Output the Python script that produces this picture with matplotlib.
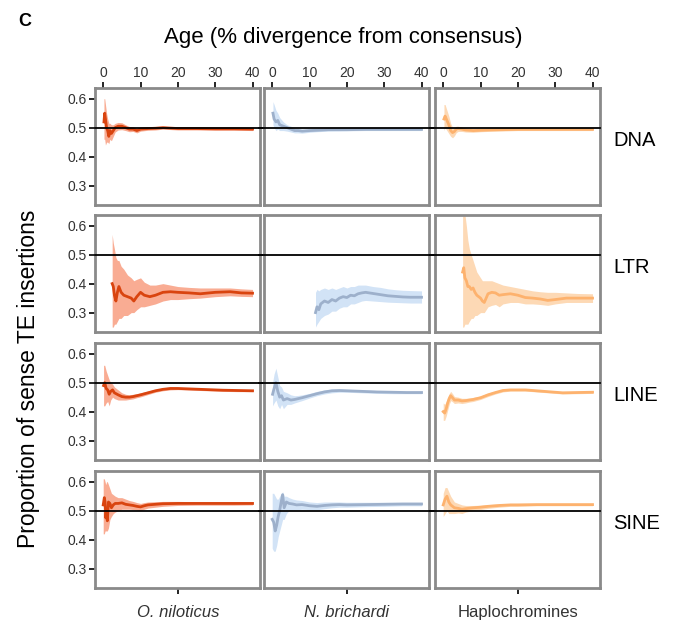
import matplotlib
matplotlib.use("Agg")
import matplotlib.pyplot as plt

plt.rcParams['font.family'] = ['Liberation Sans', 'DejaVu Sans']

species = ['O. niloticus', 'N. brichardi', 'Haplochromines']
te_classes = ['DNA', 'LTR', 'LINE', 'SINE']
x_ticks = [0, 10, 20, 30, 40]
y_ticks = [0.3, 0.4, 0.5, 0.6]

line_colors = ['#D9440F', '#9DB0CB', '#FDB26E']
band_colors = ['#F9AC93', '#D2E3F6', '#FDD9B5']

# ---- DNA ----
dna_oni_x = [0.2, 0.4, 0.6, 0.9, 1.2, 1.5, 1.8, 2.2, 2.7, 3.2, 4, 5, 6, 7, 8, 9, 10, 12, 14, 16, 20, 25, 30, 35, 40]
dna_oni_y = [0.52, 0.55, 0.53, 0.50, 0.49, 0.47, 0.49, 0.48, 0.49, 0.50, 0.505, 0.505, 0.50, 0.495, 0.495, 0.49, 0.495, 0.497, 0.498, 0.5, 0.497, 0.497, 0.496, 0.496, 0.495]
dna_oni_hi = [0.60, 0.60, 0.58, 0.55, 0.53, 0.515, 0.515, 0.51, 0.51, 0.515, 0.518, 0.517, 0.51, 0.504, 0.503, 0.498, 0.502, 0.503, 0.504, 0.505, 0.502, 0.502, 0.501, 0.501, 0.5]
dna_oni_lo = [0.46, 0.46, 0.44, 0.45, 0.45, 0.445, 0.46, 0.455, 0.47, 0.485, 0.492, 0.493, 0.49, 0.486, 0.487, 0.482, 0.488, 0.491, 0.492, 0.495, 0.492, 0.492, 0.491, 0.491, 0.49]

dna_nbr_x = [0.2, 0.5, 1, 1.5, 2, 3, 4, 5, 6, 7, 8, 10, 12, 15, 20, 25, 30, 35, 40]
dna_nbr_y = [0.55, 0.53, 0.52, 0.525, 0.51, 0.505, 0.50, 0.495, 0.49, 0.49, 0.488, 0.49, 0.491, 0.493, 0.493, 0.494, 0.494, 0.494, 0.494]
dna_nbr_hi = [0.59, 0.58, 0.56, 0.55, 0.535, 0.52, 0.51, 0.505, 0.5, 0.498, 0.495, 0.496, 0.497, 0.498, 0.498, 0.498, 0.498, 0.498, 0.498]
dna_nbr_lo = [0.51, 0.50, 0.49, 0.495, 0.49, 0.49, 0.488, 0.485, 0.482, 0.482, 0.481, 0.484, 0.486, 0.488, 0.489, 0.49, 0.49, 0.49, 0.49]

dna_hap_x = [0.2, 0.5, 1, 1.5, 2, 2.5, 3, 3.5, 4, 5, 6, 8, 10, 12, 15, 20, 25, 30, 35, 40]
dna_hap_y = [0.53, 0.54, 0.525, 0.51, 0.49, 0.483, 0.487, 0.495, 0.497, 0.495, 0.492, 0.49, 0.491, 0.492, 0.493, 0.494, 0.494, 0.494, 0.494, 0.494]
dna_hap_hi = [0.58, 0.58, 0.56, 0.54, 0.515, 0.50, 0.5, 0.505, 0.505, 0.502, 0.498, 0.496, 0.496, 0.497, 0.498, 0.498, 0.498, 0.498, 0.498, 0.498]
dna_hap_lo = [0.49, 0.5, 0.49, 0.48, 0.47, 0.465, 0.472, 0.483, 0.487, 0.487, 0.485, 0.484, 0.486, 0.487, 0.488, 0.49, 0.49, 0.49, 0.49, 0.49]

# ---- LTR ----
ltr_oni_x = [2.4, 2.7, 3.0, 3.4, 3.8, 4.2, 4.8, 5.5, 6.5, 7.5, 8.2, 9, 10, 11, 12.5, 14, 16, 18, 20, 23, 26, 30, 34, 37, 40]
ltr_oni_y = [0.40, 0.39, 0.36, 0.34, 0.37, 0.39, 0.37, 0.36, 0.355, 0.35, 0.34, 0.355, 0.37, 0.36, 0.355, 0.36, 0.37, 0.372, 0.37, 0.368, 0.365, 0.37, 0.372, 0.368, 0.367]
ltr_oni_hi = [0.57, 0.54, 0.52, 0.49, 0.48, 0.48, 0.46, 0.45, 0.43, 0.42, 0.41, 0.415, 0.42, 0.405, 0.395, 0.395, 0.4, 0.395, 0.39, 0.387, 0.385, 0.385, 0.385, 0.382, 0.38]
ltr_oni_lo = [0.25, 0.25, 0.26, 0.26, 0.27, 0.28, 0.28, 0.29, 0.29, 0.3, 0.3, 0.31, 0.32, 0.32, 0.325, 0.33, 0.34, 0.345, 0.345, 0.348, 0.35, 0.355, 0.358, 0.356, 0.355]

ltr_nbr_x = [11.6, 12, 12.5, 13, 14, 15, 16, 17, 18, 19, 20, 21, 22, 23, 24, 25, 27, 29, 31, 33, 35, 37, 40]
ltr_nbr_y = [0.30, 0.32, 0.31, 0.33, 0.34, 0.335, 0.345, 0.34, 0.35, 0.355, 0.352, 0.36, 0.358, 0.365, 0.368, 0.37, 0.366, 0.362, 0.358, 0.356, 0.354, 0.353, 0.353]
ltr_nbr_hi = [0.37, 0.38, 0.375, 0.38, 0.385, 0.38, 0.385, 0.38, 0.385, 0.39, 0.385, 0.39, 0.39, 0.395, 0.395, 0.395, 0.39, 0.387, 0.382, 0.379, 0.377, 0.376, 0.375]
ltr_nbr_lo = [0.25, 0.26, 0.27, 0.28, 0.29, 0.295, 0.305, 0.305, 0.315, 0.32, 0.32, 0.33, 0.33, 0.335, 0.34, 0.342, 0.34, 0.338, 0.336, 0.335, 0.334, 0.333, 0.333]

ltr_hap_x = [5.2, 5.5, 5.8, 6.2, 6.6, 7, 7.5, 8, 8.5, 9, 10, 10.5, 11, 12, 13, 14, 15, 16, 18, 20, 22, 24, 26, 28, 30, 33, 36, 40]
ltr_hap_y = [0.44, 0.455, 0.42, 0.41, 0.39, 0.39, 0.38, 0.385, 0.37, 0.36, 0.35, 0.34, 0.335, 0.365, 0.37, 0.368, 0.36, 0.362, 0.365, 0.36, 0.352, 0.35, 0.347, 0.342, 0.345, 0.35, 0.35, 0.35]
ltr_hap_hi = [0.64, 0.64, 0.64, 0.6, 0.55, 0.52, 0.5, 0.48, 0.46, 0.44, 0.42, 0.41, 0.41, 0.41, 0.41, 0.405, 0.4, 0.395, 0.39, 0.385, 0.38, 0.375, 0.372, 0.37, 0.37, 0.368, 0.366, 0.365]
ltr_hap_lo = [0.25, 0.25, 0.26, 0.26, 0.26, 0.27, 0.28, 0.28, 0.29, 0.29, 0.3, 0.3, 0.3, 0.32, 0.325, 0.328, 0.32, 0.33, 0.335, 0.335, 0.33, 0.33, 0.328, 0.325, 0.33, 0.335, 0.335, 0.335]

# ---- LINE ----
line_oni_x = [0.1, 0.4, 0.8, 1.2, 1.6, 2, 2.5, 3, 4, 5, 6, 7, 8, 9, 10, 12, 14, 16, 18, 20, 24, 28, 32, 36, 40]
line_oni_y = [0.49, 0.5, 0.48, 0.475, 0.46, 0.47, 0.475, 0.465, 0.458, 0.452, 0.45, 0.45, 0.452, 0.455, 0.458, 0.465, 0.472, 0.477, 0.48, 0.48, 0.478, 0.476, 0.474, 0.473, 0.472]
line_oni_hi = [0.56, 0.56, 0.54, 0.525, 0.51, 0.5, 0.495, 0.485, 0.475, 0.465, 0.46, 0.458, 0.46, 0.462, 0.465, 0.471, 0.477, 0.482, 0.485, 0.484, 0.482, 0.48, 0.478, 0.476, 0.475]
line_oni_lo = [0.42, 0.42, 0.43, 0.435, 0.42, 0.44, 0.45, 0.445, 0.44, 0.44, 0.44, 0.442, 0.444, 0.448, 0.451, 0.459, 0.467, 0.472, 0.475, 0.476, 0.474, 0.472, 0.47, 0.469, 0.469]

line_nbr_x = [0.1, 0.5, 1, 1.5, 2, 2.5, 3, 4, 5, 6, 7, 8, 10, 12, 14, 16, 18, 20, 24, 28, 32, 36, 40]
line_nbr_y = [0.46, 0.48, 0.5, 0.47, 0.45, 0.455, 0.44, 0.445, 0.44, 0.442, 0.445, 0.448, 0.455, 0.462, 0.468, 0.472, 0.473, 0.472, 0.47, 0.468, 0.467, 0.466, 0.466]
line_nbr_hi = [0.5, 0.53, 0.55, 0.52, 0.49, 0.485, 0.47, 0.465, 0.458, 0.455, 0.456, 0.458, 0.463, 0.47, 0.475, 0.478, 0.478, 0.477, 0.475, 0.473, 0.471, 0.47, 0.47]
line_nbr_lo = [0.42, 0.43, 0.44, 0.42, 0.41, 0.425, 0.41, 0.425, 0.425, 0.43, 0.434, 0.438, 0.447, 0.455, 0.461, 0.465, 0.467, 0.467, 0.465, 0.463, 0.462, 0.462, 0.462]

line_hap_x = [0, 0.4, 0.8, 1.2, 1.6, 2, 2.5, 3, 4, 5, 6, 7, 8, 10, 12, 14, 16, 18, 20, 22, 25, 28, 32, 36, 40]
line_hap_y = [0.40, 0.395, 0.41, 0.43, 0.445, 0.455, 0.448, 0.44, 0.44, 0.437, 0.438, 0.44, 0.442, 0.448, 0.458, 0.466, 0.473, 0.475, 0.475, 0.475, 0.472, 0.469, 0.465, 0.466, 0.467]
line_hap_hi = [0.43, 0.425, 0.435, 0.45, 0.462, 0.47, 0.462, 0.452, 0.45, 0.446, 0.446, 0.447, 0.449, 0.454, 0.464, 0.471, 0.478, 0.479, 0.479, 0.479, 0.476, 0.473, 0.469, 0.47, 0.471]
line_hap_lo = [0.37, 0.37, 0.385, 0.405, 0.425, 0.438, 0.434, 0.428, 0.43, 0.428, 0.43, 0.433, 0.435, 0.442, 0.452, 0.461, 0.468, 0.471, 0.471, 0.471, 0.468, 0.465, 0.461, 0.462, 0.463]

# ---- SINE ----
sine_oni_x = [0, 0.3, 0.5, 0.7, 0.9, 1.1, 1.4, 1.8, 2.2, 2.7, 3.2, 4, 5, 6, 7, 8, 9, 10, 11, 12, 14, 16, 20, 25, 30, 35, 40]
sine_oni_y = [0.52, 0.545, 0.53, 0.475, 0.5, 0.465, 0.53, 0.525, 0.51, 0.52, 0.525, 0.525, 0.527, 0.522, 0.52, 0.518, 0.515, 0.513, 0.517, 0.52, 0.522, 0.524, 0.525, 0.525, 0.525, 0.525, 0.525]
sine_oni_hi = [0.61, 0.61, 0.6, 0.59, 0.6, 0.6, 0.59, 0.575, 0.56, 0.555, 0.55, 0.545, 0.545, 0.54, 0.535, 0.532, 0.528, 0.525, 0.528, 0.53, 0.531, 0.532, 0.532, 0.531, 0.531, 0.531, 0.53]
sine_oni_lo = [0.42, 0.42, 0.43, 0.43, 0.43, 0.43, 0.44, 0.47, 0.48, 0.49, 0.495, 0.5, 0.505, 0.505, 0.505, 0.504, 0.502, 0.5, 0.505, 0.509, 0.512, 0.515, 0.518, 0.519, 0.519, 0.519, 0.52]

sine_nbr_x = [0, 0.4, 0.8, 1.2, 1.6, 2, 2.4, 2.8, 3.2, 3.8, 4.5, 5.5, 6.5, 8, 10, 12, 14, 16, 18, 20, 25, 30, 35, 40]
sine_nbr_y = [0.47, 0.46, 0.43, 0.45, 0.48, 0.5, 0.53, 0.555, 0.51, 0.53, 0.525, 0.523, 0.52, 0.521, 0.517, 0.515, 0.518, 0.52, 0.521, 0.52, 0.521, 0.522, 0.523, 0.523]
sine_nbr_hi = [0.56, 0.56, 0.55, 0.54, 0.54, 0.55, 0.56, 0.565, 0.55, 0.55, 0.545, 0.54, 0.537, 0.535, 0.53, 0.528, 0.53, 0.53, 0.53, 0.529, 0.529, 0.529, 0.529, 0.529]
sine_nbr_lo = [0.37, 0.36, 0.36, 0.38, 0.41, 0.43, 0.45, 0.47, 0.47, 0.49, 0.5, 0.503, 0.503, 0.505, 0.504, 0.503, 0.507, 0.51, 0.512, 0.512, 0.514, 0.515, 0.517, 0.517]

sine_hap_x = [0, 0.5, 1, 1.5, 2, 2.5, 3, 4, 5, 6, 8, 10, 12, 15, 18, 20, 25, 30, 35, 40]
sine_hap_y = [0.52, 0.54, 0.55, 0.53, 0.52, 0.515, 0.51, 0.508, 0.505, 0.507, 0.51, 0.512, 0.515, 0.518, 0.52, 0.52, 0.521, 0.521, 0.521, 0.521]
sine_hap_hi = [0.56, 0.58, 0.58, 0.565, 0.55, 0.54, 0.53, 0.525, 0.52, 0.518, 0.518, 0.519, 0.521, 0.523, 0.525, 0.525, 0.525, 0.525, 0.525, 0.525]
sine_hap_lo = [0.48, 0.49, 0.5, 0.49, 0.49, 0.49, 0.49, 0.492, 0.49, 0.495, 0.5, 0.504, 0.508, 0.512, 0.515, 0.515, 0.517, 0.517, 0.517, 0.517]

panels = [
    [(dna_oni_x, dna_oni_y, dna_oni_lo, dna_oni_hi),
     (dna_nbr_x, dna_nbr_y, dna_nbr_lo, dna_nbr_hi),
     (dna_hap_x, dna_hap_y, dna_hap_lo, dna_hap_hi)],
    [(ltr_oni_x, ltr_oni_y, ltr_oni_lo, ltr_oni_hi),
     (ltr_nbr_x, ltr_nbr_y, ltr_nbr_lo, ltr_nbr_hi),
     (ltr_hap_x, ltr_hap_y, ltr_hap_lo, ltr_hap_hi)],
    [(line_oni_x, line_oni_y, line_oni_lo, line_oni_hi),
     (line_nbr_x, line_nbr_y, line_nbr_lo, line_nbr_hi),
     (line_hap_x, line_hap_y, line_hap_lo, line_hap_hi)],
    [(sine_oni_x, sine_oni_y, sine_oni_lo, sine_oni_hi),
     (sine_nbr_x, sine_nbr_y, sine_nbr_lo, sine_nbr_hi),
     (sine_hap_x, sine_hap_y, sine_hap_lo, sine_hap_hi)],
]

W, H = 678, 627
fig = plt.figure(figsize=(W / 100, H / 100), dpi=100)

col_left = [95, 264, 435]
col_w = 165
row_top = [88, 215, 343, 471]
row_h = 117

for r in range(4):
    for c in range(3):
        ax = fig.add_axes([col_left[c] / W, 1 - (row_top[r] + row_h) / H, col_w / W, row_h / H])
        x, y, lo, hi = panels[r][c]
        ax.fill_between(x, lo, hi, color=band_colors[c], lw=0, zorder=1)
        ax.plot(x, y, color=line_colors[c], lw=2.0, zorder=2)
        xmin = -0.03 if c > 0 else 0
        xmax = 1.03 if c < 2 else 1
        ax.axhline(0.5, xmin=xmin, xmax=xmax, color='black', lw=1.3, zorder=3, clip_on=False)
        ax.set_xlim(-2.2, 42)
        ax.set_ylim(0.233, 0.637)
        for s in ax.spines.values():
            s.set_color('#8a8a8a')
            s.set_linewidth(2.0)
        ax.tick_params(length=4, width=1.2, color='black', direction='out',
                       labelsize=10, labelcolor='#333333', pad=2)
        if r == 0:
            ax.xaxis.tick_top()
            ax.set_xticks(x_ticks)
        elif r == 3:
            ax.set_xticks([20])
            ax.set_xticklabels([species[c]], fontsize=12,
                               fontstyle='italic' if c < 2 else 'normal')
            ax.tick_params(axis='x', pad=8)
        else:
            ax.set_xticks([])
        if c == 0:
            ax.set_yticks(y_ticks)
            ax.set_yticklabels([f'{v:.1f}' for v in y_ticks])
        else:
            ax.set_yticks([])
        if c == 2:
            ax.text(1.08, 0.55, te_classes[r], transform=ax.transAxes,
                    fontsize=14.5, va='center', ha='left')

fig.text(18 / W, 1 - 21 / H, 'C', fontsize=13, fontweight='bold', ha='left', va='center')
fig.text(343 / W, 1 - 38 / H, 'Age (% divergence from consensus)', fontsize=16,
         ha='center', va='center')
fig.text(29 / W, 1 - 379 / H, 'Proportion of sense TE insertions', fontsize=16.5,
         rotation=90, ha='center', va='center')

fig.savefig('out.png', dpi=100)
